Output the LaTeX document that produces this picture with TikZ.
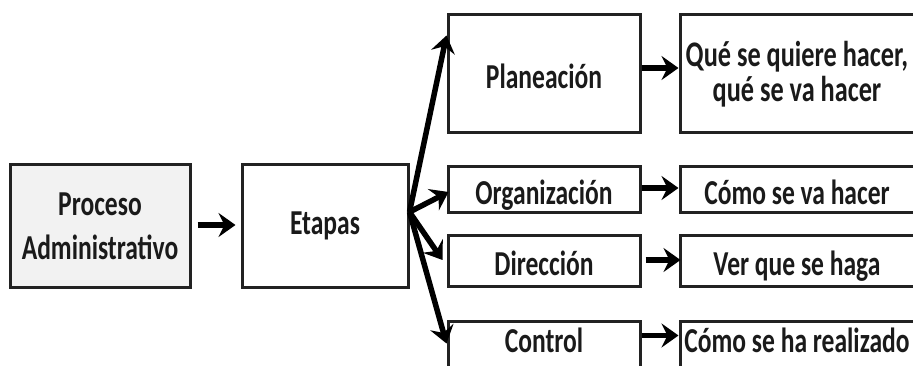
\documentclass[tikz,border=0pt]{standalone}
\usepackage{fontspec}
\setmainfont{Carlito}[FakeStretch=0.73]
\usetikzlibrary{arrows.meta,calc}
\definecolor{ink}{HTML}{1A1A1A}
\definecolor{boxline}{HTML}{222222}
\definecolor{procfill}{HTML}{F2F2F2}
\begin{document}
\begin{tikzpicture}[x=1pt,y=-1pt,
  box/.style={draw=boxline, line width=3pt, inner sep=0pt, align=center, text=ink,
    font=\fontsize{35}{44}\selectfont\bfseries},
  one/.style={text height=30pt, text depth=0pt},
  arr/.style={draw=black, line width=5.5pt, -{Stealth[length=17pt,width=24pt,inset=6pt]}}]
\useasboundingbox (0,0) rectangle (913,366);
% left column
\node[box, fill=procfill, minimum width=180pt, minimum height=122pt] (proc) at (100,226) {Proceso\\Administrativo};
\node[box, minimum width=166pt, minimum height=122pt] (etapas) at (325,226) {Etapas};
% middle column
\node[box, one, minimum width=192pt, minimum height=118pt] (plan) at (544,74) {Planeación};
\node[box, one, minimum width=192pt, minimum height=46pt] (org) at (544,190) {Organización};
\node[box, one, minimum width=192pt, minimum height=50pt] (dir) at (544,261) {Dirección};
\node[box, anchor=base, text height=31pt, text depth=33pt, minimum width=192pt] (ctrl) at (544,352) {Control};
% right column
\node[box, minimum width=234pt, minimum height=118pt, font=\fontsize{36}{35}\selectfont\bfseries] (que) at (797,74) {Qué se quiere hacer,\\qué se va hacer};
\node[box, one, minimum width=234pt, minimum height=46pt] (comova) at (797,190) {Cómo se va hacer};
\node[box, one, minimum width=234pt, minimum height=50pt] (ver) at (797,261) {Ver que se haga};
\node[box, anchor=base, text height=31pt, text depth=33pt, minimum width=234pt] (comoha) at (797,352) {Cómo se ha realizado};
% connectors
\coordinate (o) at ($(etapas.east)+(0,-14)$);
\draw[arr, shorten <=6pt, shorten >=5pt] ($(proc.east)+(0,-1)$) -- ($(etapas.west)+(0,-1)$);
\draw[arr] (o) -- ($(plan.north west)+(0,22)$);
\draw[arr] (o) -- ($(org.west)+(2,2)$);
\draw[arr] (o) -- ($(dir.west)+(-4,-1)$);
\draw[arr] (o) -- ($(ctrl.north west)+(0,24)$);
\draw[arr] ($(plan.east)+(0,-6)$) -- ($(que.west)+(0,-6)$);
\draw[arr] ($(org.east)+(0,-2)$) -- ($(comova.west)+(0,-2)$);
\draw[arr, shorten <=4pt] ($(dir.east)+(0,-1)$) -- ($(ver.west)+(2,-1)$);
\draw[arr] ($(ctrl.north east)+(0,16)$) -- ($(comoha.north west)+(0,16)$);
\end{tikzpicture}
\end{document}
